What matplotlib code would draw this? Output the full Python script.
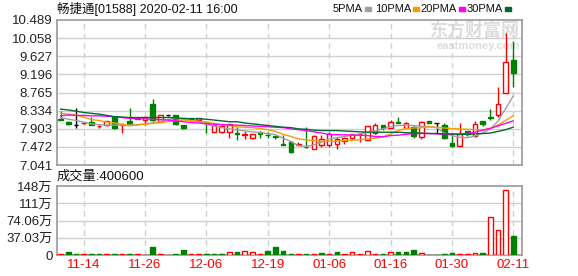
import numpy as np
import matplotlib
matplotlib.use('Agg')
import matplotlib.pyplot as plt

plt.rcParams['font.family'] = ['Liberation Sans', 'Noto Sans CJK SC']

# 交易日 (60 根K线)
dates = ['11-11', '11-12', '11-13', '11-14', '11-15', '11-18', '11-19', '11-20', '11-21', '11-22',
         '11-25', '11-26', '11-27', '11-28', '11-29', '12-02', '12-03', '12-04', '12-05', '12-06',
         '12-09', '12-10', '12-11', '12-13', '12-16', '12-17', '12-18', '12-19', '12-20', '12-23',
         '12-27', '12-30', '12-31', '01-02', '01-03', '01-06', '01-07', '01-08', '01-09', '01-10',
         '01-13', '01-14', '01-15', '01-16', '01-17', '01-20', '01-21', '01-22', '01-23', '01-24',
         '01-29', '01-30', '01-31', '02-03', '02-04', '02-05', '02-06', '02-07', '02-10', '02-11']

open_ = [8.13, 8.07, 8.00, 8.03, 8.06, 7.96, 7.99, 8.18, 7.99, 8.09,
         8.14, 8.10, 8.49, 8.07, 8.22, 8.23, 7.99, 8.15, 8.10, 8.06,
         7.83, 7.82, 7.82, 7.80, 7.76, 7.68, 7.83, 7.76, 7.72, 7.54,
         7.59, 7.52, 7.48, 7.42, 7.52, 7.52, 7.53, 7.61, 7.68, 7.77,
         7.64, 7.80, 7.99, 7.91, 8.06, 7.92, 7.95, 7.70, 8.09, 8.03,
         7.99, 7.56, 7.50, 7.84, 7.72, 8.09, 8.18, 8.23, 8.76, 9.54]
high = [8.33, 8.08, 8.39, 8.05, 8.18, 7.99, 8.09, 8.19, 8.04, 8.39,
        8.15, 8.18, 8.61, 8.24, 8.23, 8.24, 8.00, 8.16, 8.16, 8.07,
        8.00, 8.00, 8.02, 7.95, 7.85, 7.79, 7.84, 7.83, 7.73, 7.75,
        7.62, 7.59, 7.95, 7.75, 7.76, 7.83, 7.70, 7.70, 7.79, 7.79,
        7.98, 8.03, 7.99, 8.11, 8.18, 8.06, 7.96, 8.09, 8.09, 8.03,
        8.04, 7.79, 8.05, 7.85, 8.09, 8.09, 8.37, 8.90, 10.19, 10.00]
low = [8.11, 7.99, 7.93, 8.02, 7.99, 7.92, 7.98, 7.90, 7.80, 7.99,
       8.13, 7.99, 8.09, 8.06, 8.20, 8.00, 7.90, 8.09, 8.09, 7.80,
       7.82, 7.80, 7.69, 7.64, 7.67, 7.67, 7.69, 7.69, 7.67, 7.52,
       7.33, 7.51, 7.44, 7.42, 7.48, 7.48, 7.41, 7.55, 7.66, 7.59,
       7.63, 7.79, 7.87, 7.91, 8.03, 7.91, 7.68, 7.67, 8.05, 7.80,
       7.66, 7.47, 7.49, 7.74, 7.70, 7.98, 8.11, 8.19, 8.75, 8.90]
close = [8.12, 8.01, 8.00, 8.04, 8.00, 7.97, 8.08, 7.91, 8.00, 7.99,
         8.15, 8.18, 8.10, 8.22, 8.22, 8.01, 7.92, 8.10, 8.15, 8.05,
         7.99, 7.98, 8.01, 7.77, 7.78, 7.78, 7.79, 7.75, 7.71, 7.52,
         7.34, 7.53, 7.47, 7.74, 7.66, 7.77, 7.67, 7.68, 7.77, 7.79,
         7.98, 7.99, 7.92, 8.07, 8.04, 8.03, 7.72, 8.07, 8.05, 8.03,
         7.68, 7.50, 7.77, 7.78, 8.02, 8.01, 8.17, 8.49, 9.50, 9.24]

volume = [15000, 60000, 15000, 15000, 20000, 15000, 15000, 15000, 15000, 15000,
          15000, 0, 170000, 15000, 0, 20000, 110000, 15000, 15000, 20000,
          20000, 20000, 60000, 60000, 80000, 60000, 15000, 80000, 170000, 80000,
          20000, 15000, 20000, 15000, 45000, 15000, 65000, 15000, 60000, 15000,
          80000, 15000, 20000, 60000, 65000, 65000, 110000, 45000, 0, 0,
          20000, 40000, 15000, 15000, 40000, 40000, 820000, 526000, 1386000, 400600]

# 均线
ma5 = [8.17, 8.13, 8.10, 8.06, 8.02, 8.00, 7.99, 7.99, 7.99, 7.99,
       8.00, 8.02, 8.04, 8.08, 8.12, 8.15, 8.13, 8.10, 8.07, 8.01,
       7.97, 7.93, 7.90, 7.88, 7.85, 7.83, 7.81, 7.79, 7.76, 7.68,
       7.60, 7.50, 7.48, 7.52, 7.58, 7.66, 7.69, 7.72, 7.75, 7.78,
       7.82, 7.85, 7.90, 7.95, 7.98, 7.99, 7.98, 7.96, 7.95, 7.93,
       7.80, 7.74, 7.70, 7.69, 7.73, 7.80, 7.90, 8.08, 8.38, 8.68]
ma10 = [8.27, 8.25, 8.23, 8.18, 8.12, 8.10, 8.06, 8.04, 8.01, 7.98,
        7.99, 8.01, 8.03, 8.05, 8.07, 8.10, 8.11, 8.10, 8.08, 8.06,
        8.03, 8.00, 7.98, 7.95, 7.94, 7.93, 7.91, 7.88, 7.84, 7.77,
        7.72, 7.66, 7.64, 7.62, 7.61, 7.61, 7.61, 7.62, 7.63, 7.64,
        7.66, 7.68, 7.71, 7.78, 7.86, 7.91, 7.92, 7.93, 7.95, 7.94,
        7.92, 7.91, 7.90, 7.89, 7.88, 7.87, 7.91, 7.99, 8.10, 8.21]
ma20 = [8.21, 8.23, 8.22, 8.22, 8.21, 8.21, 8.20, 8.19, 8.17, 8.15,
        8.14, 8.14, 8.13, 8.12, 8.11, 8.09, 8.07, 8.05, 8.04, 8.02,
        8.01, 8.00, 7.99, 7.99, 7.98, 7.97, 7.96, 7.95, 7.94, 7.93,
        7.90, 7.88, 7.86, 7.83, 7.80, 7.77, 7.76, 7.76, 7.75, 7.75,
        7.74, 7.72, 7.71, 7.74, 7.75, 7.77, 7.79, 7.79, 7.79, 7.78,
        7.77, 7.77, 7.78, 7.79, 7.82, 7.87, 7.91, 7.97, 8.03, 8.09]
ma30 = [8.37, 8.35, 8.32, 8.29, 8.27, 8.25, 8.22, 8.19, 8.18, 8.17,
        8.17, 8.17, 8.17, 8.17, 8.17, 8.16, 8.15, 8.14, 8.14, 8.13,
        8.11, 8.09, 8.07, 8.07, 8.04, 8.02, 8.00, 7.98, 7.96, 7.94,
        7.93, 7.90, 7.89, 7.87, 7.86, 7.86, 7.86, 7.85, 7.84, 7.83,
        7.82, 7.82, 7.82, 7.82, 7.82, 7.81, 7.80, 7.80, 7.79, 7.79,
        7.78, 7.78, 7.77, 7.77, 7.78, 7.79, 7.80, 7.84, 7.88, 7.94]

price_ticks = [7.041, 7.472, 7.903, 8.334, 8.765, 9.196, 9.627, 10.058, 10.489]
vol_ticks = [0, 370300, 740600, 1110900, 1481200]
vol_labels = ['0', '37.03万', '74.06万', '111万', '148万']
tick_idx = [3, 11, 19, 27, 35, 43, 51, 59]
ma_names = ['5PMA', '10PMA', '20PMA', '30PMA']

RED = '#ff0000'
GREEN = '#008000'
GRID = '#d0d0d0'
EDGE = '#999999'
ma_colors = ['#a0a0a0', '#f0a000', '#ff00ff', '#006a30']

o = np.array(open_)
h = np.array(high)
l = np.array(low)
c = np.array(close)
v = np.array(volume)
x = np.arange(len(dates))

fig = plt.figure(figsize=(5.78, 2.76), dpi=100)
ax = fig.add_axes([57 / 578, 1 - 165 / 276, 465 / 578, 145 / 276])
axv = fig.add_axes([57 / 578, 1 - 255 / 276, 465 / 578, 69 / 276])

up = c > o
dn = c < o
eq = c == o
bw = 0.6

# K线
ax.vlines(x[up], l[up], h[up], color=RED, lw=1, zorder=2)
ax.vlines(x[dn], l[dn], h[dn], color=GREEN, lw=1, zorder=2)
ax.vlines(x[eq], l[eq], h[eq], color='black', lw=1, zorder=2)
ax.bar(x[up], c[up] - o[up], bottom=o[up], width=bw, facecolor='white',
       edgecolor=RED, lw=1, zorder=3)
ax.bar(x[dn], o[dn] - c[dn], bottom=c[dn], width=bw, facecolor=GREEN,
       edgecolor=GREEN, lw=1, zorder=3)
ax.hlines(o[eq], x[eq] - bw / 2, x[eq] + bw / 2, color='black', lw=1, zorder=3)

for ma, col in zip([ma5, ma10, ma20, ma30], ma_colors):
    ax.plot(x, ma, color=col, lw=1, zorder=4)

# 成交量
prev = np.concatenate([[c[0]], c[:-1]])
vup = c >= prev
axv.bar(x[vup], v[vup], width=bw, facecolor='white', edgecolor=RED, lw=1, zorder=3)
axv.bar(x[~vup], v[~vup], width=bw, facecolor=GREEN, edgecolor=GREEN, lw=1, zorder=3)

for a in (ax, axv):
    a.set_xlim(-0.48, 60.14)
    a.set_xticks(tick_idx)
    for xi in tick_idx:
        a.axvline(xi, color=GRID, lw=1, ls=(0, (4, 3)), zorder=1)
    for s in a.spines.values():
        s.set_color(EDGE)
        s.set_linewidth(1.2)
    a.tick_params(length=0, labelsize=9.5, colors='#222222', pad=3)

ax.set_ylim(price_ticks[0], price_ticks[-1])
ax.set_yticks(price_ticks)
ax.set_yticklabels([f'{t:.3f}' for t in price_ticks])
for t in price_ticks[1:-1]:
    ax.axhline(t, color=GRID, lw=1, zorder=1)
ax.set_xticklabels([])

axv.set_ylim(0, vol_ticks[-1])
axv.set_yticks(vol_ticks)
axv.set_yticklabels(vol_labels)
for t in vol_ticks[1:-1]:
    axv.axhline(t, color=GRID, lw=1, zorder=1)
axv.set_xticklabels([dates[i] for i in tick_idx], color=RED)

# 标题和图例
fig.text(57 / 578, 1 - 9 / 276, '畅捷通[01588] 2020-02-11 16:00', fontsize=9,
         va='center', ha='left', color='#111111')
mk_x = [365, 413, 459, 505]
for mx, lt, col in zip(mk_x, ma_names, ma_colors):
    fig.text((mx - 2) / 578, 1 - 9 / 276, lt, fontsize=8, va='center', ha='right',
             color='#111111')
    fig.patches.append(plt.Rectangle((mx / 578, 1 - 10.5 / 276), 6 / 578, 3 / 276,
                                     transform=fig.transFigure, color=col, figure=fig))

fig.text(57 / 578, 1 - 177 / 276, '成交量:' + str(volume[-1]), fontsize=9.5,
         va='center', ha='left', color='#111111')

# 水印
ax.text(0.995, 0.93, '东方财富网', transform=ax.transAxes, fontsize=13, color='#dddddd',
        ha='right', va='center', fontweight='bold', family=['Noto Sans CJK SC'], zorder=0)
ax.text(0.995, 0.82, 'eastmoney.com', transform=ax.transAxes, fontsize=8, color='#dddddd',
        ha='right', va='center', fontweight='bold', zorder=0)

fig.savefig('out.png', dpi=100)
